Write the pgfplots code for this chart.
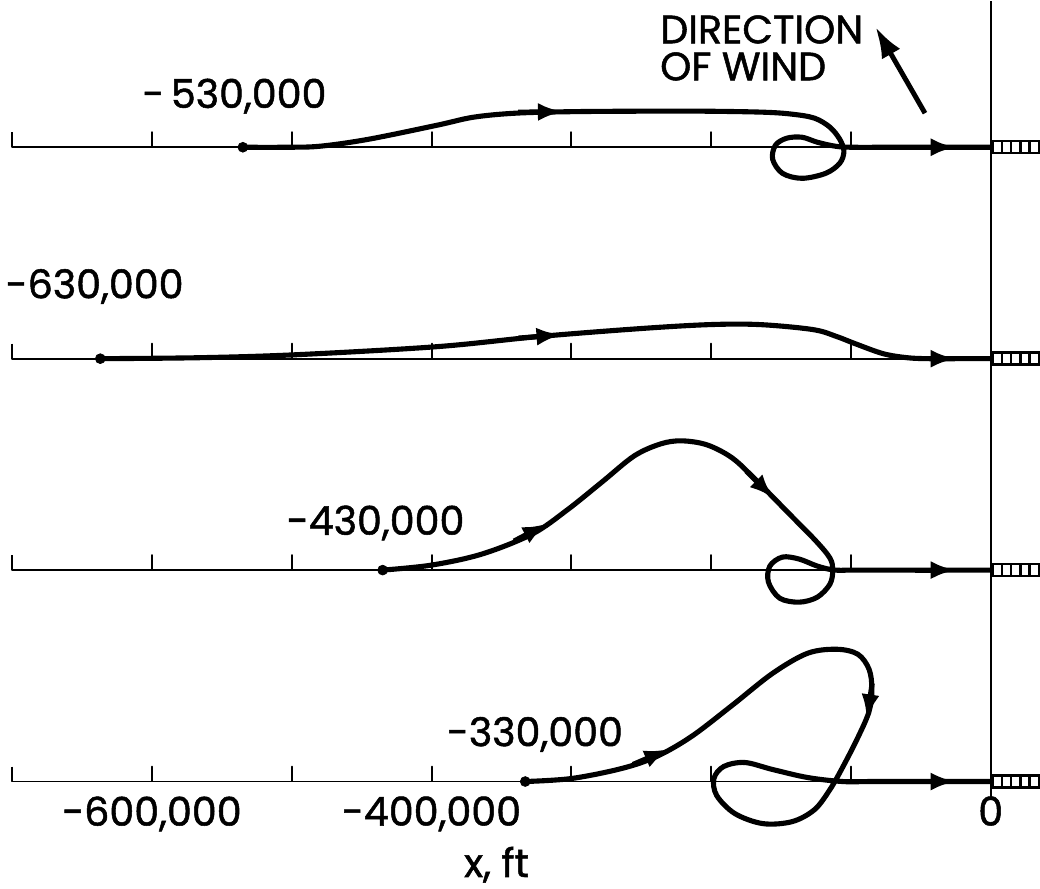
\documentclass[border=0pt]{standalone}
\usepackage{fontspec}
\setmainfont{Poppins}
\newfontfamily\lblfam{Poppins}[FakeBold=1.3]
\usepackage{pgfplots}
\pgfplotsset{compat=1.18}
\usetikzlibrary{arrows.meta}

\newcommand{\lbl}{\lblfam\fontsize{22.5}{23}\selectfont}

\begin{document}
\begin{tikzpicture}
\begin{axis}[
    scale only axis,
    width=19.53cm, height=15.58cm,
    xmin=-700000, xmax=0, ymin=0, ymax=779,
    axis x line=bottom, axis y line=none,
    x axis line style={draw=none},
    xtick={-600000,-400000,0},
    xticklabels={{-600,000},{-400,000},{0}},
    xtick style={draw=none},
    scaled x ticks=false,
    xticklabel style={font=\lbl, yshift=-0.1cm},
    xlabel={x, ft},
    xlabel style={font=\lbl, at={(axis description cs:0.495,0)}, anchor=center, yshift=-1.66cm},
    clip=false,
    base/.style={line width=1.1pt, line join=round, black},
    traj/.style={line width=2.9pt, smooth, tension=0.55, black},
    arr/.style={line width=2.9pt, black, -{Latex[length=0.5cm,width=0.36cm]}},
]

% baselines with their ticks (every 100,000 ft)
\addplot[base] coordinates {(-700000,648)(-700000,633)(-600000,633)(-600000,648)(-600000,633)(-500000,633)(-500000,648)(-500000,633)(-400000,633)(-400000,648)(-400000,633)(-300000,633)(-300000,648)(-300000,633)(-200000,633)(-200000,648)(-200000,633)(-100000,633)(-100000,648)(-100000,633)(0,633)};
\addplot[base] coordinates {(-700000,437)(-700000,422)(-600000,422)(-600000,437)(-600000,422)(-500000,422)(-500000,437)(-500000,422)(-400000,422)(-400000,437)(-400000,422)(-300000,422)(-300000,437)(-300000,422)(-200000,422)(-200000,437)(-200000,422)(-100000,422)(-100000,437)(-100000,422)(0,422)};
\addplot[base] coordinates {(-700000,226)(-700000,211)(-600000,211)(-600000,226)(-600000,211)(-500000,211)(-500000,226)(-500000,211)(-400000,211)(-400000,226)(-400000,211)(-300000,211)(-300000,226)(-300000,211)(-200000,211)(-200000,226)(-200000,211)(-100000,211)(-100000,226)(-100000,211)(0,211)};
\addplot[base] coordinates {(-700000,15)(-700000,0)(-600000,0)(-600000,15)(-600000,0)(-500000,0)(-500000,15)(-500000,0)(-400000,0)(-400000,15)(-400000,0)(-300000,0)(-300000,15)(-300000,0)(-200000,0)(-200000,15)(-200000,0)(-100000,0)(-100000,15)(-100000,0)(0,0)};

% trajectory starting at -530,000 ft
\addplot[traj] coordinates {(-535000,633)(-505000,633)(-480000,634)(-445000,641)(-396000,655)(-370000,663)(-340000,667)(-300000,668.5)(-250000,669)(-206000,669)(-163000,668)(-142000,666)(-126000,662)(-115000,653)(-108000,641)(-105000,629)(-108000,617)(-118000,607)(-135000,602)(-149000,607)(-156000,621)(-154000,635)(-146000,642)(-135000,643)(-124000,638)(-111000,634)(-99000,633)(-70000,633)(-35000,633)(0,633)};
% trajectory starting at -630,000 ft
\addplot[traj] coordinates {(-637000,422)(-565000,423)(-496000,426)(-396000,434)(-324000,444)(-251000,452)(-201000,456)(-165000,456)(-127000,451)(-110000,444)(-97000,437)(-77000,427)(-60000,423)(-45000,422)(-20000,422)(0,422)};
% trajectory starting at -430,000 ft
\addplot[traj] coordinates {(-435000,211)(-400000,216)(-364000,227)(-328000,247)(-303000,271)(-278000,299)(-255000,325)(-236000,337)(-221000,340)(-203000,336)(-185000,323)(-168000,301)(-144000,267)(-125000,240)(-115000,223)(-113000,211)(-115000,197)(-124000,184)(-137000,179)(-151000,183)(-159000,199)(-158000,215)(-149000,224)(-137000,222)(-124000,215)(-112000,211)(-99000,211)(-60000,211)(0,211)};
% trajectory starting at -330,000 ft
\addplot[traj] coordinates {(-333000,0)(-300000,3)(-264000,13)(-239000,25)(-214000,45)(-185000,76)(-156000,108)(-131000,128)(-110000,132)(-95000,127)(-87000,112)(-85000,92)(-87000,70)(-95000,44)(-106000,14)(-115000,-8)(-126000,-28)(-142000,-40)(-163000,-42)(-183000,-32)(-196000,-14)(-198000,3)(-191000,15)(-176000,19)(-156000,12)(-131000,4)(-106000,0)(-85000,0)(-40000,0)(0,0)};

% start points
\addplot[only marks, mark=*, mark size=2.8pt, black] coordinates {(-535000,633)(-637000,422)(-435000,211)(-333000,0)};

% direction arrows on the paths
\addplot[arr] coordinates {(-338000,668)(-306000,668.5)};
\addplot[arr] coordinates {(-54000,633)(-25000,633)};
\addplot[arr] coordinates {(-338000,442.5)(-307000,446)};
\addplot[arr] coordinates {(-54000,422)(-25000,422)};
\addplot[arr] coordinates {(-341000,240)(-317000,257.5)};
\addplot[arr] coordinates {(-175000,310)(-155000,282.5)};
\addplot[arr] coordinates {(-54000,211)(-25000,211)};
\addplot[arr] coordinates {(-256000,17)(-230000,32.5)};
\addplot[arr] coordinates {(-84800,98)(-88700,62)};
\addplot[arr] coordinates {(-54000,0)(-25000,0)};

% touchdown line
\draw[line width=1.1pt] (axis cs:0,-16) -- (axis cs:0,779);

% runways
\draw[line width=1.4pt] (axis cs:1400,627) rectangle (axis cs:34400,639)
  (axis cs:8000,627)--(axis cs:8000,639) (axis cs:14600,627)--(axis cs:14600,639)
  (axis cs:21200,627)--(axis cs:21200,639) (axis cs:27800,627)--(axis cs:27800,639);
\draw[line width=1.4pt] (axis cs:1400,416) rectangle (axis cs:34400,428)
  (axis cs:8000,416)--(axis cs:8000,428) (axis cs:14600,416)--(axis cs:14600,428)
  (axis cs:21200,416)--(axis cs:21200,428) (axis cs:27800,416)--(axis cs:27800,428);
\draw[line width=1.4pt] (axis cs:1400,205) rectangle (axis cs:34400,217)
  (axis cs:8000,205)--(axis cs:8000,217) (axis cs:14600,205)--(axis cs:14600,217)
  (axis cs:21200,205)--(axis cs:21200,217) (axis cs:27800,205)--(axis cs:27800,217);
\draw[line width=1.4pt] (axis cs:1400,-6) rectangle (axis cs:34400,6)
  (axis cs:8000,-6)--(axis cs:8000,6) (axis cs:14600,-6)--(axis cs:14600,6)
  (axis cs:21200,-6)--(axis cs:21200,6) (axis cs:27800,-6)--(axis cs:27800,6);

% labels
\node[font=\lbl] at (axis cs:-541000,684) {-\,530,000};
\node[font=\lbl] at (axis cs:-641000,494) {-630,000};
\node[font=\lbl] at (axis cs:-440000,258) {-430,000};
\node[font=\lbl] at (axis cs:-326000,47) {-330,000};
\node[font=\lbl, anchor=north east, align=left, inner sep=0pt, text depth=0pt]
  at (axis cs:-91000,765) {DIRECTION\\[-2pt]OF WIND};
\draw[line width=2.8pt, -{Latex[length=0.62cm,width=0.42cm]}]
  (axis cs:-47000,667) -- (axis cs:-82400,753);

\end{axis}
\end{tikzpicture}
\end{document}
